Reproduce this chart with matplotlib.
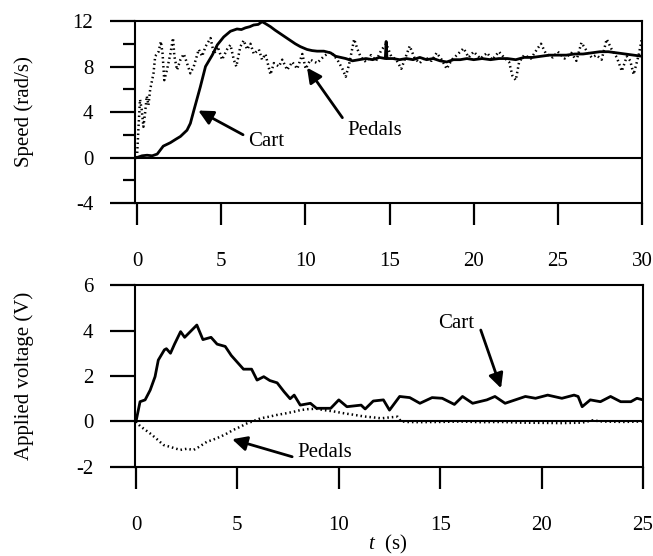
import matplotlib.pyplot as plt

plt.rcParams['font.family'] = 'Liberation Serif'
plt.rcParams['mathtext.fontset'] = 'custom'
plt.rcParams['mathtext.it'] = 'Liberation Serif:italic'
plt.rcParams['mathtext.rm'] = 'Liberation Serif'

# speed, cart (solid)
cart_t = [0, 0.3, 0.6, 0.9, 1.2, 1.56, 1.98, 2.3, 2.58, 2.97, 3.17, 3.37, 3.76, 4.07, 4.47,
          4.77, 5.15, 5.55, 5.94, 6.2, 6.44, 6.7, 6.93, 7.2, 7.43, 7.6, 7.93, 8.2, 8.5, 8.8,
          9.1, 9.4, 9.7, 10.1, 10.4, 10.7, 11.1, 11.5, 11.8, 12.1, 12.4, 12.8, 13.2, 13.6,
          14.0, 14.4, 14.75, 14.8, 14.85, 15.2, 15.6, 16.0, 16.4, 16.8, 17.2, 17.6, 18.0,
          18.4, 18.8, 19.2, 19.6, 20.0, 20.5, 21.0, 21.5, 22.0, 22.5, 23.0, 23.5, 24.0,
          24.5, 25.0, 25.5, 26.0, 26.5, 27.0, 27.5, 28.0, 28.5, 29.0, 29.5, 30.0]
cart_v = [0, 0.15, 0.2, 0.15, 0.3, 1.0, 1.3, 1.6, 1.85, 2.4, 3.0, 4.1, 6.2, 8.0, 9.0,
          9.9, 10.6, 11.1, 11.3, 11.25, 11.4, 11.5, 11.65, 11.7, 11.94, 11.8, 11.5, 11.2, 10.9, 10.6,
          10.3, 10.0, 9.75, 9.5, 9.4, 9.35, 9.35, 9.2, 8.9, 8.8, 8.7, 8.5, 8.6, 8.7,
          8.6, 8.8, 8.7, 10.2, 8.7, 8.7, 8.6, 8.7, 8.6, 8.8, 8.6, 8.7, 8.5,
          8.4, 8.6, 8.6, 8.7, 8.6, 8.7, 8.6, 8.7, 8.7, 8.6, 8.8, 8.8, 8.9,
          9.0, 9.0, 9.0, 9.1, 9.1, 9.2, 9.3, 9.3, 9.2, 9.1, 9.0, 8.9]

# speed, pedals (dotted)
ped_t = [0, 0.08, 0.18, 0.28, 0.38, 0.48, 0.58, 0.68, 0.78, 0.98, 1.08, 1.28, 1.42, 1.52,
         1.62, 1.78, 1.98, 2.14, 2.22, 2.38, 2.58, 2.78, 2.97, 3.17, 3.37, 3.67, 3.87, 4.07,
         4.37, 4.57, 4.8, 5.05, 5.35, 5.55, 5.75, 5.9, 6.14, 6.34, 6.54, 6.74, 6.94, 7.24,
         7.43, 7.63, 7.93, 8.13, 8.43, 8.63, 8.92, 9.22, 9.52, 9.82, 10.02, 10.3, 10.7, 11.1,
         11.5, 11.9, 12.2, 12.4, 12.6, 12.9, 13.1, 13.3, 13.6, 13.9, 14.2, 14.5, 14.8, 15.1,
         15.4, 15.7, 16.0, 16.2, 16.5, 16.8, 17.1, 17.5, 17.8, 18.1, 18.4, 18.7, 19.0, 19.4,
         19.7, 20.0, 20.4, 20.8, 21.1, 21.5, 21.8, 22.1, 22.3, 22.5, 22.7, 23.0, 23.4, 23.8,
         24.0, 24.3, 24.7, 25.0, 25.4, 25.8, 26.1, 26.4, 26.7, 27.0, 27.3, 27.6, 27.9, 28.2,
         28.5, 28.8, 29.1, 29.3, 29.5, 29.8, 30.0]
ped_v = [0, 2.4, 5.1, 4.2, 2.7, 3.9, 5.4, 4.6, 5.95, 7.4, 8.9, 9.3, 10.2, 9.1,
         6.8, 7.7, 9.1, 10.5, 8.9, 7.7, 8.6, 9.1, 8.3, 7.4, 8.0, 9.5, 8.9, 9.75,
         10.5, 9.1, 9.75, 8.6, 9.5, 9.9, 8.6, 8.0, 9.75, 10.3, 9.5, 10.0, 9.1, 9.5,
         8.6, 9.1, 7.3, 8.3, 8.0, 8.6, 7.7, 8.4, 7.8, 9.1, 7.8, 8.6, 8.3, 8.9,
         9.3, 8.6, 7.8, 7.1, 8.2, 10.4, 9.5, 8.8, 8.4, 9.0, 8.5, 9.4, 10.0, 8.9,
         8.6, 7.8, 9.0, 9.8, 8.7, 8.3, 8.8, 8.5, 9.2, 8.6, 7.8, 8.6, 9.0, 9.6,
         8.8, 9.3, 8.7, 9.2, 8.6, 9.3, 8.8, 8.4, 7.2, 6.8, 8.4, 9.0, 8.7, 9.6,
         10.0, 9.1, 8.8, 9.3, 8.7, 9.2, 8.5, 10.1, 9.4, 8.8, 9.0, 8.6, 10.4, 9.5,
         8.8, 7.6, 8.9, 8.5, 7.3, 9.0, 10.5]

# applied voltage, cart (solid)
vc_t = [0, 0.2, 0.45, 0.7, 0.94, 1.1, 1.4, 1.5, 1.7, 1.9, 2.2, 2.4, 3.0, 3.3, 3.7, 4.0,
        4.4, 4.7, 5.0, 5.3, 5.7, 5.97, 6.3, 6.6, 6.96, 7.3, 7.6, 7.8, 8.1, 8.6, 8.9, 9.6,
        10.0, 10.4, 11.1, 11.3, 11.7, 12.2, 12.5, 13.0, 13.5, 14.0, 14.6, 15.1, 15.7, 16.1,
        16.6, 17.3, 17.7, 18.2, 18.7, 19.2, 19.7, 20.3, 21.0, 21.6, 21.8, 22.0, 22.4, 22.9,
        23.4, 23.9, 24.4, 24.7, 25.0]
vc_v = [0, 0.87, 0.95, 1.38, 1.97, 2.7, 3.15, 3.2, 3.0, 3.4, 3.95, 3.7, 4.24, 3.6, 3.7, 3.4,
        3.3, 2.9, 2.6, 2.3, 2.3, 1.82, 1.97, 1.8, 1.7, 1.31, 1.0, 1.16, 0.72, 0.8, 0.58, 0.58,
        0.95, 0.65, 0.72, 0.55, 0.9, 0.95, 0.5, 1.1, 1.05, 0.8, 1.05, 1.02, 0.75, 1.1,
        0.8, 0.95, 1.1, 0.8, 0.95, 1.1, 1.02, 1.16, 1.02, 1.16, 1.1, 0.65, 0.95, 0.87,
        1.1, 0.87, 0.87, 1.02, 0.95]

# applied voltage, pedals (dotted)
vp_t = [0, 0.2, 0.4, 0.69, 1.0, 1.35, 1.7, 2.18, 2.5, 2.84, 3.1, 3.5, 3.8, 4.16, 4.5, 4.8,
        5.1, 5.48, 5.8, 6.14, 6.5, 6.96, 7.4, 7.79, 8.1, 8.45, 8.9, 9.27, 9.7, 10.26, 10.7,
        11.25, 11.7, 12.1, 12.5, 12.9, 13.05, 13.3, 14.0, 15.0, 16.0, 17.0, 18.0, 19.0, 20.0,
        21.0, 22.0, 22.5, 23.0, 24.0, 25.0]
vp_v = [0, -0.2, -0.33, -0.52, -0.75, -1.03, -1.12, -1.25, -1.2, -1.25, -1.12, -0.89, -0.8, -0.67, -0.52, -0.37,
        -0.25, -0.08, 0.02, 0.14, 0.2, 0.29, 0.36, 0.43, 0.5, 0.54, 0.56, 0.5, 0.45, 0.36, 0.3,
        0.22, 0.18, 0.14, 0.18, 0.21, 0.02, -0.02, -0.03, -0.02, 0.0, -0.03, -0.02, -0.05, -0.06,
        -0.07, -0.05, 0.05, 0.0, -0.02, 0.0]

fig = plt.figure(figsize=(6.53, 5.56), dpi=100)
ax1 = fig.add_axes([0.2067, 0.6349, 0.7765, 0.3273])
ax2 = fig.add_axes([0.2067, 0.1601, 0.7780, 0.3273])

dot = (0, (0.6, 1.2))

ax1.plot(cart_t, cart_v, color='black', lw=2.0, solid_joinstyle='round', zorder=3)
ax1.plot(ped_t, ped_v, color='black', lw=1.8, linestyle=dot, zorder=3)
ax1.axhline(0, color='black', lw=1.5)
ax1.set_xlim(-0.12, 30)
ax1.set_ylim(-4, 12)
ax1.set_xticks([0, 5, 10, 15, 20, 25, 30])
ax1.set_yticks([-4, 0, 4, 8, 12])
ax1.set_yticks([-2, 2, 6, 10], minor=True)
ax1.set_yticklabels(['-4', '0', '4', '8', '12'])
ax1.set_ylabel('Speed (rad/s)', fontsize=15, va='center')
ax1.yaxis.set_label_coords(-0.219, 0.5)

ax1.annotate('', xy=(3.64, 4.13), xytext=(6.3, 2.0),
             arrowprops=dict(arrowstyle='-|>', color='black', lw=2, mutation_scale=22,
                             shrinkA=0, shrinkB=0))
ax1.text(6.6, 1.03, 'Cart', fontsize=15, ha='left', va='baseline')
ax1.annotate('', xy=(10.1, 7.9), xytext=(12.2, 3.5),
             arrowprops=dict(arrowstyle='-|>', color='black', lw=2, mutation_scale=22,
                             shrinkA=0, shrinkB=0))
ax1.text(12.5, 2.0, 'Pedals', fontsize=15, ha='left', va='baseline')

ax2.plot(vc_t, vc_v, color='black', lw=2.0, solid_joinstyle='round', zorder=3)
ax2.plot(vp_t, vp_v, color='black', lw=1.8, linestyle=dot, zorder=3)
ax2.axhline(0, color='black', lw=1.5)
ax2.set_xlim(-0.05, 25)
ax2.set_ylim(-2, 6)
ax2.set_xticks([0, 5, 10, 15, 20, 25])
ax2.set_yticks([-2, 0, 2, 4, 6])
ax2.set_yticklabels(['-2', '0', '2', '4', '6'])
ax2.set_ylabel('Applied voltage (V)', fontsize=15, va='center')
ax2.yaxis.set_label_coords(-0.219, 0.5)
ax2.set_xlabel(r'$t$  (s)', fontsize=15, va='center')
ax2.xaxis.set_label_coords(0.497, -0.425)

ax2.annotate('', xy=(18.0, 1.46), xytext=(17.0, 4.02),
             arrowprops=dict(arrowstyle='-|>', color='black', lw=2, mutation_scale=22,
                             shrinkA=0, shrinkB=0))
ax2.text(14.9, 4.1, 'Cart', fontsize=15, ha='left', va='baseline')
ax2.annotate('', xy=(4.74, -0.78), xytext=(7.7, -1.55),
             arrowprops=dict(arrowstyle='-|>', color='black', lw=2, mutation_scale=22,
                             shrinkA=0, shrinkB=0))
ax2.text(7.97, -1.57, 'Pedals', fontsize=15, ha='left', va='baseline')

for ax in (ax1, ax2):
    for s in ax.spines.values():
        s.set_linewidth(1.5)
    ax.tick_params(axis='x', direction='out', length=16, width=1.6, pad=19, labelsize=15)
    ax.tick_params(axis='y', which='major', direction='out', length=18, width=1.6, pad=12,
                   labelsize=15)
    ax.tick_params(axis='y', which='minor', direction='out', length=9, width=1.6)

fig.savefig('out.png', dpi=100)
